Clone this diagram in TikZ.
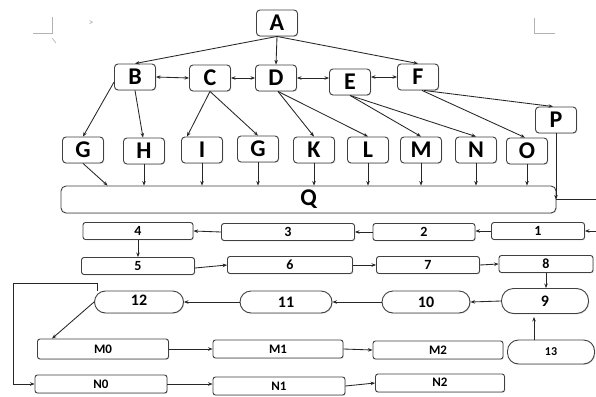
\documentclass[tikz,border=0pt]{standalone}
\usepackage{fontspec}
\setmainfont{Carlito}
\usetikzlibrary{arrows.meta,shadows}
\begin{document}
\begin{tikzpicture}[x=1pt,y=-1pt,
  base/.style={draw=black!75, line width=0.9pt, fill=white, inner sep=0pt, align=center,
    drop shadow={opacity=0.25,shadow xshift=0.8pt,shadow yshift=-0.8pt}},
  lbox/.style={base, rounded corners=3.5pt, minimum width=41pt, minimum height=26pt,
    font=\fontsize{24}{24}\selectfont\bfseries},
  nbox/.style={base, rounded corners=2.5pt, minimum height=17pt,
    font=\fontsize{14}{14}\selectfont\bfseries},
  sbox/.style={base, rounded corners=11pt, minimum height=22pt,
    font=\fontsize{16}{16}\selectfont\bfseries},
  mbox/.style={base, rounded corners=2.5pt, minimum height=18pt,
    font=\fontsize{13}{13}\selectfont\bfseries},
  conn/.style={draw=black!85, line width=0.85pt, -{Stealth[length=4.5pt,width=3.5pt]}},
  dconn/.style={draw=black!85, line width=0.85pt, {Stealth[length=4.5pt,width=3.5pt]}-{Stealth[length=4.5pt,width=3.5pt]}},
  plain/.style={draw=black!85, line width=0.85pt},
  pagemark/.style={draw=black!30, line width=0.6pt}
]
\useasboundingbox (0,0) rectangle (596,396);
\fill[white] (0,0) rectangle (596,396);

% page marks
\draw[pagemark] (33,33) -- (52,33) -- (52,17);
\draw[pagemark] (52,38) -- (56,43);
\draw[pagemark] (534,18) -- (534,33) -- (555,33);
\node[text=blue!30!black!40, font=\fontsize{9}{9}\selectfont, inner sep=0pt] (gt) at (91,23) {>};

% top tree
\node[lbox] (A) at (277,23) {A};
\node[lbox] (B) at (135,77) {B};
\node[lbox] (C) at (210,78) {C};
\node[lbox] (D) at (276,78) {D};
\node[lbox] (E) at (350,82) {E};
\node[lbox] (F) at (418,77) {F};
\node[lbox] (P) at (556,120) {P};

\node[lbox] (G) at (83,150) {G};
\node[lbox] (H) at (144,151) {H};
\node[lbox] (I) at (202,150) {I};
\node[lbox] (G2) at (258,149) {G};
\node[lbox] (K) at (314,150) {K};
\node[lbox] (L) at (368,150) {L};
\node[lbox] (M) at (421,150) {M};
\node[lbox] (N) at (476,150) {N};
\node[lbox] (O) at (527,151) {O};

\node[lbox, minimum width=495pt, minimum height=27pt, rounded corners=5pt] (Q) at (308.5,199.5) {Q};

% number rows
\node[nbox, minimum width=110pt] (n4) at (138,231) {4};
\node[nbox, minimum width=133pt] (n3) at (288,232) {3};
\node[nbox, minimum width=102pt] (n2) at (424,232) {2};
\node[nbox, minimum width=93pt]  (n1) at (538,231) {1};

\node[nbox, minimum width=113pt] (n5) at (138,266) {5};
\node[nbox, minimum width=125pt] (n6) at (290,265) {6};
\node[nbox, minimum width=103pt] (n7) at (428,265) {7};
\node[nbox, minimum width=94pt]  (n8) at (546,264) {8};

\node[sbox, minimum width=87pt, minimum height=25pt, rounded corners=12pt] (n9) at (545,301) {9};
\node[sbox, minimum width=88pt] (n10) at (426,302) {10};
\node[sbox, minimum width=92pt] (n11) at (286,302) {11};
\node[sbox, minimum width=89pt] (n12) at (139,302) {\raisebox{4pt}{12}};
\node[sbox, minimum width=87pt, minimum height=24pt, font=\fontsize{12}{12}\selectfont\bfseries] (n13) at (551,352) {13};

\node[mbox, minimum width=131pt, minimum height=20pt] (M0) at (103,349) {M0};
\node[mbox, minimum width=130pt] (M1) at (278,349) {M1};
\node[mbox, minimum width=130pt] (M2) at (438,350) {M2};
\node[mbox, minimum width=132pt] (N0) at (101,384) {N0};
\node[mbox, minimum width=132pt] (N1) at (279,386) {N1};
\node[mbox, minimum width=129pt] (N2) at (440,383) {\raisebox{2pt}{N2}};

\coordinate (qout) at (596,199.5);
\coordinate (in1) at (596,231);
\coordinate (lp) at (13,283);

% tree connectors
\draw[conn] (A.south) -- (B.north);
\draw[conn] (A.south) -- (D.north);
\draw[conn] (A.south) -- (F.north);
\draw[dconn] (B.east) -- (C.west);
\draw[dconn] (C.east) -- (D.west);
\draw[dconn] (D.east) -- (D.east -| E.west);
\draw[dconn] (E.east |- F.west) -- (F.west);

\draw[conn] ([yshift=-5pt]B.west) -- (G.north);
\draw[conn] (B.south) -- ([xshift=-1pt]H.north);
\draw[conn] (C.south) -- ([xshift=-15pt]I.north);
\draw[conn] (C.south) -- (G2.north);
\draw[conn] ([xshift=2pt]D.south) -- (K.north);
\draw[conn] ([xshift=2pt]D.south) -- (L.north);
\draw[conn] (E.south) -- (M.north);
\draw[conn] (E.south) -- (N.north);
\draw[conn] ([xshift=4pt]F.south) -- ([xshift=-2pt]O.north);
\draw[conn] ([xshift=6pt]F.south) -- ([xshift=-3pt]P.north);

\draw[conn] (G.south) -- ([xshift=47pt]Q.north west);
\draw[conn] (H.south) -- (H.south |- Q.north);
\draw[conn] (I.south) -- (I.south |- Q.north);
\draw[conn] (G2.south) -- (G2.south |- Q.north);
\draw[conn] (K.south) -- (K.south |- Q.north);
\draw[conn] (L.south) -- (L.south |- Q.north);
\draw[conn] (M.south) -- (M.south |- Q.north);
\draw[conn] (N.south) -- (N.south |- Q.north);
\draw[conn] (O.south) -- (O.south |- Q.north);
\draw[conn] (P.south) -- (P.south |- Q.east);
\draw[plain] (Q.east) -- (qout);

% numbered flow
\draw[conn] (in1) -- (n1.east);
\draw[conn] (n1.west) -- (n1.west -| n2.east);
\draw[conn] (n2.west) -- (n3.east);
\draw[conn] (n3.west) -- (n4.east);
\draw[conn] (n4.south) -- (n5.north);
\draw[conn] ([yshift=-2pt]n5.east) -- (n6.west);
\draw[conn] (n6.east) -- (n7.west);
\draw[conn] (n7.east) -- (n8.west);
\draw[conn] (n8.south) -- (n8.south |- n9.north);
\draw[conn] (n9.west) -- (n10.east);
\draw[conn] (n10.west) -- (n11.east);
\draw[conn] (n11.west) -- (n12.east);
\draw[conn] ([xshift=-17pt]n13.north) -- ([xshift=-11pt,yshift=-3pt]n9.south);
\draw[conn] (n12.west) -- ([xshift=15pt]M0.north west);
\draw[conn] ([xshift=3pt]n12.north west) -- ([xshift=3pt]n12.north west |- lp) -- (lp) |- (N0.west);

\draw[conn] (M0.east) -- (M1.west);
\draw[conn] (M1.east) -- (M2.west);
\draw[conn] (N0.east) -- (N0.east -| N1.west);
\draw[conn] (N1.east) -- (N2.west);
\end{tikzpicture}
\end{document}
